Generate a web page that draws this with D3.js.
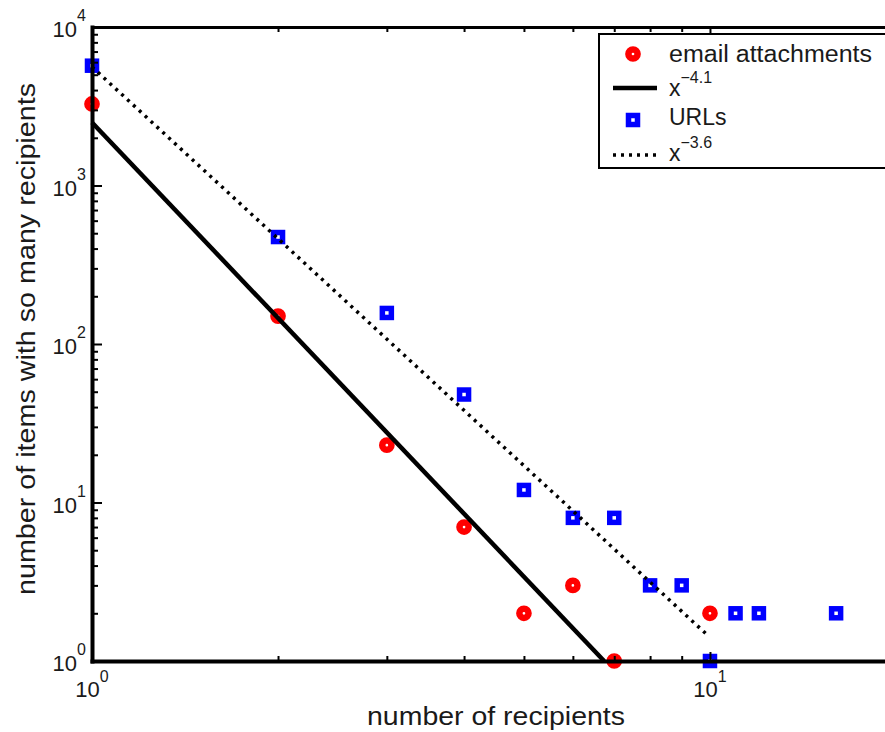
<!DOCTYPE html>
<html><head><meta charset="utf-8">
<script src="https://cdn.jsdelivr.net/npm/d3@7"></script>
<style>
html,body{margin:0;padding:0;background:#fff;}
svg{display:block;}
text{font-family:"Liberation Sans",Arial,Helvetica,sans-serif;fill:#1a1a1a;}
</style>
</head><body>
<svg id="c" width="885" height="732"></svg>
<script>
// ---- data ----
const emailRecipients = [1, 2, 3, 4, 5, 6, 7, 10];
const emailCounts     = [3270, 150, 23, 7, 2, 3, 1, 2];
const urlRecipients   = [1, 2, 3, 4, 5, 6, 7, 8, 9, 10, 11, 12, 16];
const urlCounts       = [5700, 473, 157, 48, 12, 8, 8, 3, 3, 1, 2, 2, 2];
// fitted power-law lines (end points)
const fitEmailX = [1, 6.74];
const fitEmailY = [2500, 1];
const fitUrlX   = [1, 9.9];
const fitUrlY   = [5600, 1.46];
// ticks
const xTicks    = [1, 10];
const xTickExps = ["0", "1"];
const yTicks    = [1, 10, 100, 1000, 10000];
const yTickExps = ["0", "1", "2", "3", "4"];
// legend
const legendLabels = ["email attachments", "x", "URLs", "x"];
const legendExps   = ["", "\u22124.1", "", "\u22123.6"];
const xLabel = "number of recipients";
const yLabel = "number of items with so many recipients";

const RED = "#ff0000", BLUE = "#0000ff";
const svg = d3.select("#c");

const x = d3.scaleLog().domain([1, 20]).range([92, 896]);
const y = d3.scaleLog().domain([1, 10000]).range([661, 27]);

const plot = svg.append("g");

// markers
plot.selectAll("circle.e").data(emailRecipients.map((r, i) => [r, emailCounts[i]]))
  .enter().append("circle")
  .attr("cx", d => x(d[0])).attr("cy", d => y(d[1])).attr("r", 4.6)
  .attr("fill", "none").attr("stroke", RED).attr("stroke-width", 6.5);

plot.selectAll("rect.u").data(urlRecipients.map((r, i) => [r, urlCounts[i]]))
  .enter().append("rect")
  .attr("x", d => x(d[0]) - 4.5).attr("y", d => y(d[1]) - 4.5)
  .attr("width", 9).attr("height", 9)
  .attr("fill", "none").attr("stroke", BLUE).attr("stroke-width", 5.5);

// fit lines
const line = d3.line().x(d => x(d[0])).y(d => y(d[1]));
plot.append("path").datum(fitEmailX.map((v, i) => [v, fitEmailY[i]]))
  .attr("d", line).attr("fill", "none").attr("stroke", "#000").attr("stroke-width", 4.5);
plot.append("path").datum(fitUrlX.map((v, i) => [v, fitUrlY[i]]))
  .attr("d", line).attr("fill", "none").attr("stroke", "#000").attr("stroke-width", 3.5)
  .attr("stroke-dasharray", "3,5");

// axes
function styleAxis(g, domainWidth, keepDomain) {
  g.selectAll(".tick line").attr("stroke", "#000").attr("stroke-width", 2);
  g.selectAll(".tick text").remove();
  if (keepDomain) g.select(".domain").attr("stroke", "#000").attr("stroke-width", domainWidth).attr("stroke-linecap", "square");
  else g.select(".domain").remove();
}
const yMinor = y.ticks().filter(v => yTicks.indexOf(v) < 0);
const xMinor = x.ticks().filter(v => xTicks.indexOf(v) < 0);

const gl1 = svg.append("g").attr("transform", "translate(92,0)")
  .call(d3.axisLeft(y).tickValues(yMinor).tickSizeInner(-6).tickSizeOuter(0).tickFormat(""));
styleAxis(gl1, 4, false);
const gl2 = svg.append("g").attr("transform", "translate(92,0)")
  .call(d3.axisLeft(y).tickValues(yTicks).tickSizeInner(-10).tickSizeOuter(0).tickFormat(""));
styleAxis(gl2, 4, true);

const gb1 = svg.append("g").attr("transform", "translate(0,661)")
  .call(d3.axisBottom(x).tickValues(xMinor).tickSizeInner(-5).tickSizeOuter(0).tickFormat(""));
styleAxis(gb1, 4, false);
const gb2 = svg.append("g").attr("transform", "translate(0,661)")
  .call(d3.axisBottom(x).tickValues(xTicks).tickSizeInner(-9).tickSizeOuter(0).tickFormat(""));
styleAxis(gb2, 4, true);

const gt1 = svg.append("g").attr("transform", "translate(0,27)")
  .call(d3.axisTop(x).tickValues(xMinor).tickSizeInner(-5).tickSizeOuter(0).tickFormat(""));
styleAxis(gt1, 3, false);
const gt2 = svg.append("g").attr("transform", "translate(0,27)")
  .call(d3.axisTop(x).tickValues(xTicks).tickSizeInner(-9).tickSizeOuter(0).tickFormat(""));
styleAxis(gt2, 3, true);

// tick labels
xTicks.forEach((v, i) => {
  const t = svg.append("text").attr("x", x(v)).attr("y", 697)
    .attr("text-anchor", "middle").attr("font-size", 22);
  t.append("tspan").text("10");
  t.append("tspan").attr("dy", -15).attr("font-size", 16).text(xTickExps[i]);
});
yTicks.forEach((v, i) => {
  const t = svg.append("text").attr("x", 86).attr("y", y(v) + 10)
    .attr("text-anchor", "end").attr("font-size", 22);
  t.append("tspan").text("10");
  t.append("tspan").attr("dy", -16).attr("font-size", 16).text(yTickExps[i]);
});

// axis labels
svg.append("text").attr("x", 367).attr("y", 725).attr("font-size", 25)
  .attr("textLength", 258).attr("lengthAdjust", "spacingAndGlyphs").text(xLabel);
svg.append("text").attr("transform", "translate(35,595) rotate(-90)").attr("font-size", 26)
  .attr("textLength", 512).attr("lengthAdjust", "spacingAndGlyphs").text(yLabel);

// legend
const lg = svg.append("g");
lg.append("rect").attr("x", 599).attr("y", 34).attr("width", 300).attr("height", 134)
  .attr("fill", "#fff").attr("stroke", "#000").attr("stroke-width", 2);
lg.append("circle").attr("cx", 633).attr("cy", 54).attr("r", 4.6)
  .attr("fill", "none").attr("stroke", RED).attr("stroke-width", 6.5);
lg.append("line").attr("x1", 613).attr("x2", 657).attr("y1", 88).attr("y2", 88)
  .attr("stroke", "#000").attr("stroke-width", 4.5);
lg.append("rect").attr("x", 628.5).attr("y", 115.5).attr("width", 9).attr("height", 9)
  .attr("fill", "none").attr("stroke", BLUE).attr("stroke-width", 5.5);
lg.append("line").attr("x1", 613).attr("x2", 657).attr("y1", 155).attr("y2", 155)
  .attr("stroke", "#000").attr("stroke-width", 3.5).attr("stroke-dasharray", "3,5");

const legBase = [62, 96, 125, 161];
legendLabels.forEach((lab, i) => {
  const t = lg.append("text").attr("x", 669).attr("y", legBase[i]).attr("font-size", 23);
  if (i === 0) t.attr("textLength", 203).attr("lengthAdjust", "spacingAndGlyphs");
  t.append("tspan").text(lab);
  if (legendExps[i]) t.append("tspan").attr("dy", -13).attr("font-size", 16).text(legendExps[i]);
});
</script>
</body></html>
